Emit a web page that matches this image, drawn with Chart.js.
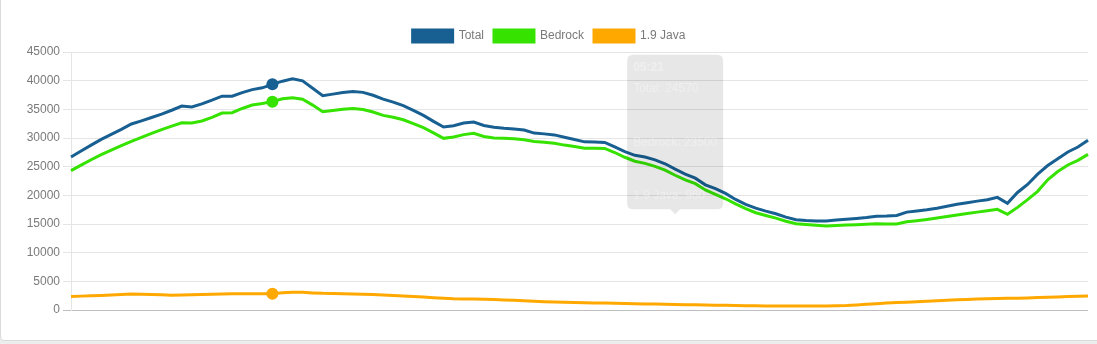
<!DOCTYPE html>
<html>
<head>
<meta charset="utf-8">
<title>Players online</title>
<script src="https://cdn.jsdelivr.net/npm/chart.js@4.4.1/dist/chart.umd.min.js"></script>
<style>
  html, body { margin: 0; padding: 0; background: #eceeed; overflow: hidden; }
  .card {
    position: absolute; left: 0; top: -6px; width: 1120px; height: 347px;
    background: #fff; border: 1px solid #d9dbda; border-radius: 4px; box-sizing: border-box;
  }
  .chart-box { position: absolute; left: 0; top: 0; width: 1097px; height: 340px; }
</style>
</head>
<body>
<div class="card"></div>
<div class="chart-box"><canvas id="playersChart"></canvas></div>
<script>
// Sample times (15 minute steps)
const times = [
  "14:21","14:36","14:51","15:06","15:21","15:36","15:51","16:06","16:21","16:36",
  "16:51","17:06","17:21","17:36","17:51","18:06","18:21","18:36","18:51","19:06",
  "19:21","19:36","19:51","20:06","20:21","20:36","20:51","21:06","21:21","21:36",
  "21:51","22:06","22:21","22:36","22:51","23:06","23:21","23:36","23:51","00:06",
  "00:21","00:36","00:51","01:06","01:21","01:36","01:51","02:06","02:21","02:36",
  "02:51","03:06","03:21","03:36","03:51","04:06","04:21","04:36","04:51","05:06",
  "05:21","05:36","05:51","06:06","06:21","06:36","06:51","07:06","07:21","07:36",
  "07:51","08:06","08:21","08:36","08:51","09:06","09:21","09:36","09:51","10:06",
  "10:21","10:36","10:51","11:06","11:21","11:36","11:51","12:06","12:21","12:36",
  "12:51","13:06","13:21","13:36","13:51","14:06","14:21","14:36","14:51","15:06",
  "15:21","15:36"
];

// Player counts per sample
const total = [
  26700, 27740, 28760, 29750, 30630, 31510, 32440, 32990, 33580, 34160,
  34840, 35570, 35420, 35940, 36590, 37290, 37300, 37910, 38440, 38750,
  39360, 39910, 40320, 39960, 38680, 37380, 37650, 37950, 38130, 37960,
  37460, 36790, 36260, 35640, 34830, 33950, 32900, 31910, 32150, 32610,
  32790, 32190, 31870, 31700, 31590, 31400, 30860, 30720, 30540, 30140,
  29740, 29330, 29310, 29220, 28460, 27610, 26980, 26680, 26190, 25510,
  24570, 23710, 22990, 21830, 21160, 20330, 19280, 18440, 17770, 17250,
  16790, 16200, 15760, 15610, 15520, 15540, 15690, 15840, 15970, 16130,
  16360, 16390, 16480, 17070, 17270, 17490, 17760, 18080, 18430, 18720,
  18990, 19240, 19650, 18600, 20500, 21900, 23700, 25200, 26400, 27560,
  28420, 29600
];
const bedrock = [
  24300, 25260, 26210, 27110, 27880, 28660, 29420, 30110, 30790, 31460,
  32080, 32660, 32620, 32970, 33600, 34350, 34420, 35150, 35760, 36030,
  36340, 36830, 37020, 36760, 35740, 34580, 34790, 35030, 35140, 34960,
  34530, 33950, 33620, 33180, 32500, 31820, 30890, 29940, 30170, 30590,
  30820, 30260, 30010, 29950, 29850, 29700, 29380, 29260, 29090, 28760,
  28520, 28200, 28220, 28190, 27470, 26640, 25950, 25570, 25060, 24410,
  23500, 22690, 22040, 20930, 20180, 19400, 18520, 17680, 16970, 16490,
  16020, 15470, 15060, 14910, 14770, 14660, 14750, 14830, 14890, 14960,
  15040, 15000, 15010, 15390, 15580, 15790, 16030, 16290, 16570, 16820,
  17070, 17320, 17560, 16700, 17900, 19240, 20700, 22700, 24150, 25300,
  26100, 27150
];
const java = [
  2350, 2420, 2480, 2550, 2620, 2700, 2780, 2760, 2700, 2640,
  2580, 2620, 2680, 2720, 2760, 2800, 2830, 2840, 2830, 2820,
  2850, 3000, 3100, 3080, 2980, 2900, 2860, 2820, 2790, 2750,
  2700, 2620, 2540, 2460, 2360, 2260, 2150, 2040, 1960, 1920,
  1900, 1880, 1820, 1750, 1680, 1600, 1530, 1460, 1400, 1340,
  1300, 1280, 1240, 1200, 1170, 1140, 1110, 1060, 1030, 990,
  960, 930, 900, 870, 840, 810, 780, 750, 730, 710,
  700, 690, 690, 700, 700, 710, 740, 790, 880, 990,
  1100, 1200, 1290, 1370, 1450, 1530, 1610, 1700, 1780, 1850,
  1910, 1960, 2000, 2030, 2060, 2100, 2160, 2220, 2280, 2340,
  2400, 2460
];

const seriesNames = ["Total", "Bedrock", "1.9 Java"];
const seriesColors = ["#185f92", "#36e300", "#ffa800"];
const yTicks = { min: 0, max: 45000, step: 5000 };

// highlighted sample and the sample under the tooltip
const hoverIndex = 20;
const tooltipIndex = 60;

Chart.defaults.font.family = "Arial, 'Liberation Sans', sans-serif";
Chart.defaults.font.size = 12;
Chart.defaults.color = "#7a7a7a";

function makeDataset(name, values, color) {
  return {
    label: name,
    data: values,
    borderColor: color,
    backgroundColor: color,
    borderWidth: 3,
    fill: false,
    tension: 0,
    pointRadius: 0,
    pointHitRadius: 4,
    pointHoverRadius: 6,
    pointHoverBorderWidth: 0,
    pointHoverBackgroundColor: color,
    pointHoverBorderColor: color
  };
}

const ctx = document.getElementById("playersChart").getContext("2d");
const chart = new Chart(ctx, {
  type: "line",
  data: {
    labels: times,
    datasets: [
      makeDataset(seriesNames[0], total, seriesColors[0]),
      makeDataset(seriesNames[1], bedrock, seriesColors[1]),
      makeDataset(seriesNames[2], java, seriesColors[2])
    ]
  },
  options: {
    responsive: true,
    maintainAspectRatio: false,
    animation: false,
    events: [],
    layout: { padding: { left: 10, right: 9, top: 20, bottom: 30 } },
    interaction: { mode: "index", intersect: false },
    scales: {
      x: { display: false },
      y: {
        min: yTicks.min,
        max: yTicks.max,
        afterFit: scale => { scale.width = 61; },
        ticks: { stepSize: yTicks.step, padding: 3, callback: v => String(v) },
        grid: {
          color: c => c.tick && c.tick.value === 0 ? "rgba(0,0,0,0.25)" : "rgba(0,0,0,0.1)",
          tickLength: 8
        },
        border: { color: "rgba(0,0,0,0.1)" }
      }
    },
    plugins: {
      legend: {
        position: "top",
        labels: { boxWidth: 40, boxHeight: 12, padding: 10 }
      },
      tooltip: {
        enabled: true,
        mode: "index",
        intersect: false,
        xAlign: "center",
        yAlign: "bottom",
        backgroundColor: "rgba(0,0,0,0.095)",
        titleColor: "rgba(255,255,255,0.3)",
        bodyColor: "rgba(255,255,255,0.3)",
        displayColors: false,
        padding: { x: 6, y: 6 },
        bodySpacing: 39.5,
        cornerRadius: 6,
        caretSize: 5,
        caretPadding: 2,
        callbacks: {
          label: item => item.dataset.label + ": " + item.raw
        }
      }
    }
  }
});

// hover markers on one sample, tooltip on another
const samplesAt = i => chart.data.datasets.map((d, k) => ({ datasetIndex: k, index: i }));
chart.setActiveElements(samplesAt(hoverIndex));
chart.tooltip.setActiveElements(samplesAt(tooltipIndex), { x: 0, y: 0 });
chart.render();
</script>
</body>
</html>
